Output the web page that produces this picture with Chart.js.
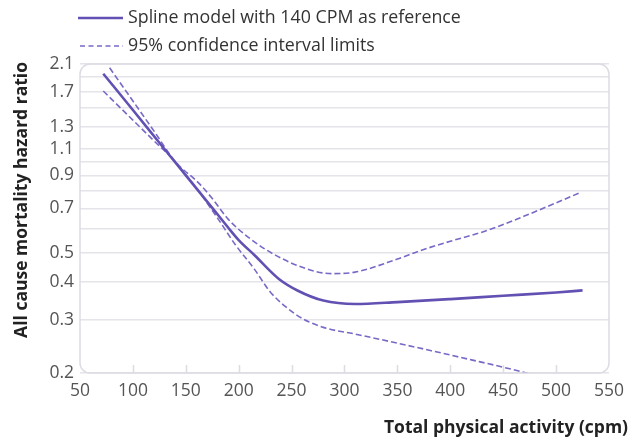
<!DOCTYPE html>
<html><head><meta charset="utf-8">
<script src="https://cdn.jsdelivr.net/npm/chart.js@4/dist/chart.umd.min.js"></script>
<style>html,body{margin:0;padding:0;background:#fff}#wrap{width:632px;height:441px;position:relative}</style>
</head><body><div id="wrap"><canvas id="c"></canvas></div>
<script>
// ---- data ----
const mainX = [72, 100, 125, 150, 175, 190, 200, 215, 238, 256, 280, 310, 350, 400, 450, 500, 525];
const mainY = [1.95, 1.48, 1.153, 0.90, 0.703, 0.605, 0.55, 0.49, 0.409, 0.374, 0.347, 0.338, 0.343, 0.351, 0.360, 0.369, 0.375];
const upperX = [78, 100, 120, 140, 162, 175, 190, 212, 234, 264, 288, 310, 350, 372, 400, 435, 470, 500, 523];
const upperY = [2.04, 1.585, 1.26, 1.00, 0.85, 0.755, 0.645, 0.552, 0.492, 0.442, 0.426, 0.431, 0.476, 0.508, 0.545, 0.592, 0.66, 0.73, 0.79];
const lowerX = [72, 100, 120, 140, 150, 162, 180, 197, 215, 230, 245, 260, 280, 310, 350, 382, 420, 450, 477];
const lowerY = [1.71, 1.37, 1.17, 1.00, 0.905, 0.80, 0.65, 0.53, 0.44, 0.37, 0.33, 0.303, 0.283, 0.269, 0.251, 0.237, 0.221, 0.209, 0.198];
const yGridValues = [0.2, 0.3, 0.4, 0.5, 0.6, 0.7, 0.8, 0.9, 1.0, 1.1, 1.3, 1.5, 1.7, 1.9, 2.1];
const yTickLabels = [0.2, 0.3, 0.4, 0.5, 0.7, 0.9, 1.1, 1.3, 1.7, 2.1];
const xTickValues = [50, 100, 150, 200, 250, 300, 350, 400, 450, 500, 550];
const legendLabels = ['Spline model with 140 CPM as reference', '95% confidence interval limits'];
const xTitle = 'Total physical activity (cpm)';
const yTitle = 'All cause mortality hazard ratio';

const MAIN_COLOR = '#6350b3';
const CI_COLOR = '#7869c6';
const FONT = '"Open Sans", "Noto Sans", sans-serif';

const pts = (xs, ys) => xs.map((x, i) => ({x: x, y: ys[i]}));

const decor = {
  id: 'decor',
  afterDraw(chart) {
    const ctx = chart.ctx, a = chart.chartArea;
    const xs = chart.scales.x;
    ctx.save();
    // rounded plot border
    ctx.strokeStyle = '#dcdce2';
    ctx.lineWidth = 1.5;
    ctx.beginPath();
    ctx.roundRect(a.left, a.top, a.right - a.left, a.bottom - a.top, 10);
    ctx.stroke();
    // inner tick marks on x axis
    ctx.beginPath();
    xTickValues.slice(1, -1).forEach(v => {
      const px = Math.round(xs.getPixelForValue(v)) + 0.5;
      ctx.moveTo(px, a.bottom);
      ctx.lineTo(px, a.bottom - 8);
    });
    ctx.stroke();
    // legend
    const lx0 = 78, lx1 = 123;
    ctx.lineWidth = 2.6;
    ctx.strokeStyle = MAIN_COLOR;
    ctx.setLineDash([]);
    ctx.beginPath(); ctx.moveTo(lx0, 18); ctx.lineTo(lx1, 18); ctx.stroke();
    ctx.lineWidth = 1.5;
    ctx.strokeStyle = CI_COLOR;
    ctx.setLineDash([5, 3.5]);
    ctx.beginPath(); ctx.moveTo(lx0 + 2, 46); ctx.lineTo(lx1, 46); ctx.stroke();
    ctx.setLineDash([]);
    ctx.fillStyle = '#333';
    ctx.font = '17.8px ' + FONT;
    ctx.textBaseline = 'middle';
    ctx.textAlign = 'left';
    ctx.fillText(legendLabels[0], 128, 18);
    ctx.fillText(legendLabels[1], 128, 46);
    // axis titles
    ctx.fillStyle = '#222';
    ctx.font = 'bold 17.5px ' + FONT;
    ctx.textAlign = 'right';
    ctx.fillText(xTitle, 628, 428);
    ctx.translate(22, 62);
    ctx.rotate(-Math.PI / 2);
    ctx.textAlign = 'right';
    ctx.fillText(yTitle, 0, 0);
    ctx.restore();
  }
};

new Chart(document.getElementById('c'), {
  type: 'line',
  data: {
    datasets: [
      {label: legendLabels[0], data: pts(mainX, mainY), borderColor: MAIN_COLOR, borderWidth: 2.6, pointRadius: 0, cubicInterpolationMode: 'monotone', fill: false},
      {label: legendLabels[1], data: pts(upperX, upperY), borderColor: CI_COLOR, borderWidth: 1.6, borderDash: [6, 3], pointRadius: 0, cubicInterpolationMode: 'monotone', fill: false},
      {label: legendLabels[1] + ' (lower)', data: pts(lowerX, lowerY), borderColor: CI_COLOR, borderWidth: 1.6, borderDash: [6, 3], pointRadius: 0, cubicInterpolationMode: 'monotone', fill: false}
    ]
  },
  options: {
    responsive: true,
    maintainAspectRatio: false,
    animation: false,
    layout: {padding: {top: 64, right: 19, left: 0, bottom: 0}},
    plugins: {legend: {display: false}, tooltip: {enabled: false}},
    scales: {
      x: {
        type: 'linear', min: 50, max: 550,
        afterBuildTicks: s => { s.ticks = xTickValues.map(v => ({value: v})); },
        afterFit: s => { s.height = 68; },
        grid: {display: false, drawTicks: false},
        border: {display: false},
        ticks: {autoSkip: false, maxRotation: 0, color: '#555', padding: 8, font: {family: FONT, size: 17.5}}
      },
      y: {
        type: 'logarithmic', min: 0.2, max: 2.1,
        afterBuildTicks: s => { s.ticks = yGridValues.map(v => ({value: v})); },
        afterFit: s => { s.width = 80; },
        grid: {color: '#e4e4ea', lineWidth: 1.5, drawTicks: false},
        border: {display: false},
        ticks: {
          autoSkip: false, color: '#555', padding: 6, font: {family: FONT, size: 17.5},
          callback: v => yTickLabels.some(t => Math.abs(t - v) < 1e-6) ? Number(v).toFixed(1) : ''
        }
      }
    }
  },
  plugins: [decor]
});
</script>
</body></html>
